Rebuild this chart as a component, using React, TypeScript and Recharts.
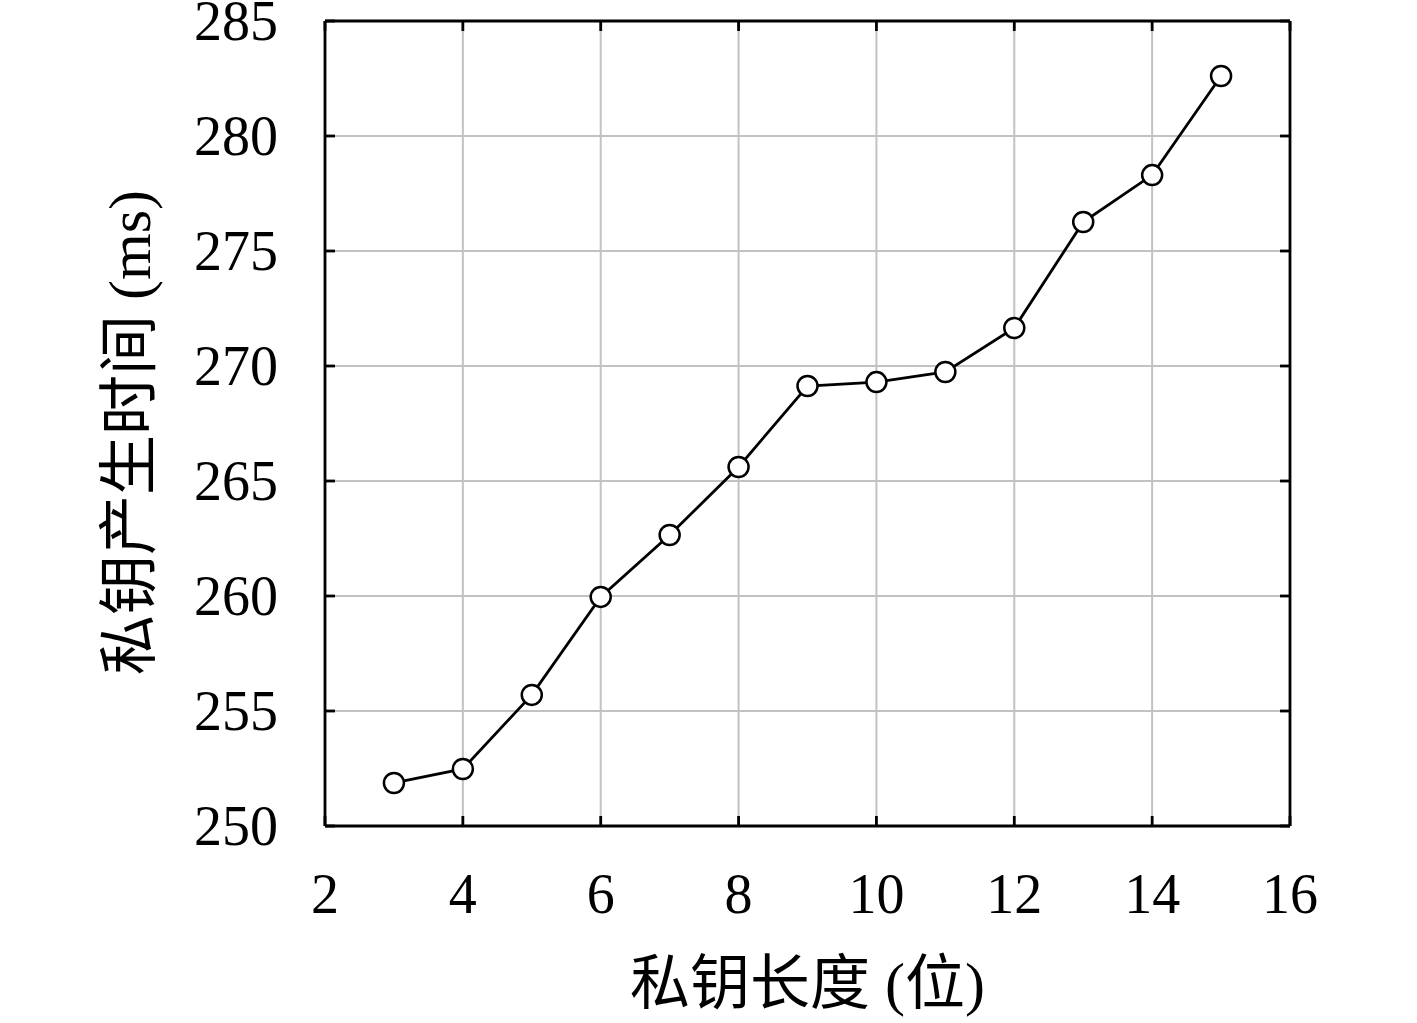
import React from "react";
import { LineChart, Line, XAxis, YAxis, CartesianGrid } from "recharts";

const keyLengths = [3, 4, 5, 6, 7, 8, 9, 10, 11, 12, 13, 14, 15];
const genTimes = [251.87, 252.48, 255.7, 259.96, 262.65, 265.61, 269.13, 269.3, 269.74, 271.65, 276.26, 278.3, 282.61];
const xTicks = [2, 4, 6, 8, 10, 12, 14, 16];
const yTicks = [250, 255, 260, 265, 270, 275, 280, 285];
const xGridValues = [4, 6, 8, 10, 12, 14];
const yGridValues = [255, 260, 265, 270, 275, 280];

const data = keyLengths.map((k, i) => ({ k, t: genTimes[i] }));

const FONT = '"Liberation Serif", "Noto Sans CJK SC", serif';
const TICK_LEN = 10;
const AX_W = 2.8;

const BottomTick = (props: any) => {
  const { x, y, payload } = props;
  return (
    <text x={x} y={y + 87} textAnchor="middle" fontFamily={FONT} fontSize={56} fill="#000">
      {payload.value}
    </text>
  );
};

const LeftTick = (props: any) => {
  const { x, y, payload } = props;
  return (
    <text x={x - 47} y={y + 19} textAnchor="end" fontFamily={FONT} fontSize={56} fill="#000">
      {payload.value}
    </text>
  );
};

const NoLabel = () => <g />;

const XLabel = (props: any) => {
  const vb = props.viewBox || {};
  const cx = vb.x + vb.width / 2;
  return (
    <text x={cx} y={vb.y + 178} textAnchor="middle" fontFamily={FONT} fontSize={60} fill="#000">
      私钥长度 (位)
    </text>
  );
};

const YLabel = (props: any) => {
  const vb = props.viewBox || {};
  const cy = vb.y + vb.height / 2 + 9;
  const cx = 150;
  return (
    <text
      x={cx}
      y={cy}
      textAnchor="middle"
      fontFamily={FONT}
      fontSize={60}
      fill="#000"
      transform={`rotate(-90, ${cx}, ${cy})`}
    >
      私钥产生时间 (ms)
    </text>
  );
};

const axisLine = { stroke: "#000", strokeWidth: AX_W };
const tickLine = { stroke: "#000", strokeWidth: AX_W };

export default function App() {
  return (
    <div style={{ position: "absolute", left: 0, top: 0, width: 1417, height: 1023, background: "#fff" }}>
      <LineChart
        width={1417}
        height={1023}
        data={data}
        margin={{ top: 20, right: 126, bottom: 0, left: 0 }}
      >
        <CartesianGrid
          stroke="#c2c2c2"
          strokeWidth={2}
          verticalValues={xGridValues}
          horizontalValues={yGridValues}
        />
        <XAxis
          dataKey="k"
          type="number"
          domain={[2, 16]}
          ticks={xTicks}
          height={197}
          stroke="#000"
          tickSize={-TICK_LEN}
          tickMargin={TICK_LEN}
          tickLine={tickLine}
          axisLine={axisLine}
          tick={<BottomTick />}
          interval={0}
          allowDataOverflow
          label={<XLabel />}
        />
        <XAxis
          xAxisId="top"
          orientation="top"
          dataKey="k"
          type="number"
          domain={[2, 16]}
          ticks={xTicks}
          height={1}
          stroke="#000"
          tickSize={-TICK_LEN}
          tickMargin={TICK_LEN}
          tickLine={tickLine}
          axisLine={axisLine}
          tick={<NoLabel />}
          interval={0}
          allowDataOverflow
        />
        <YAxis
          type="number"
          domain={[250, 285]}
          ticks={yTicks}
          width={325}
          stroke="#000"
          tickSize={-TICK_LEN}
          tickMargin={TICK_LEN}
          tickLine={tickLine}
          axisLine={axisLine}
          tick={<LeftTick />}
          interval={0}
          allowDataOverflow
          label={<YLabel />}
        />
        <YAxis
          yAxisId="right"
          orientation="right"
          type="number"
          domain={[250, 285]}
          ticks={yTicks}
          width={1}
          stroke="#000"
          tickSize={-TICK_LEN}
          tickMargin={TICK_LEN}
          tickLine={tickLine}
          axisLine={axisLine}
          tick={<NoLabel />}
          interval={0}
          allowDataOverflow
        />
        <Line
          dataKey="t"
          stroke="#000"
          strokeWidth={2.8}
          isAnimationActive={false}
          dot={{ r: 10, fill: "#fff", stroke: "#000", strokeWidth: 2.5 }}
        />
      </LineChart>
    </div>
  );
}
